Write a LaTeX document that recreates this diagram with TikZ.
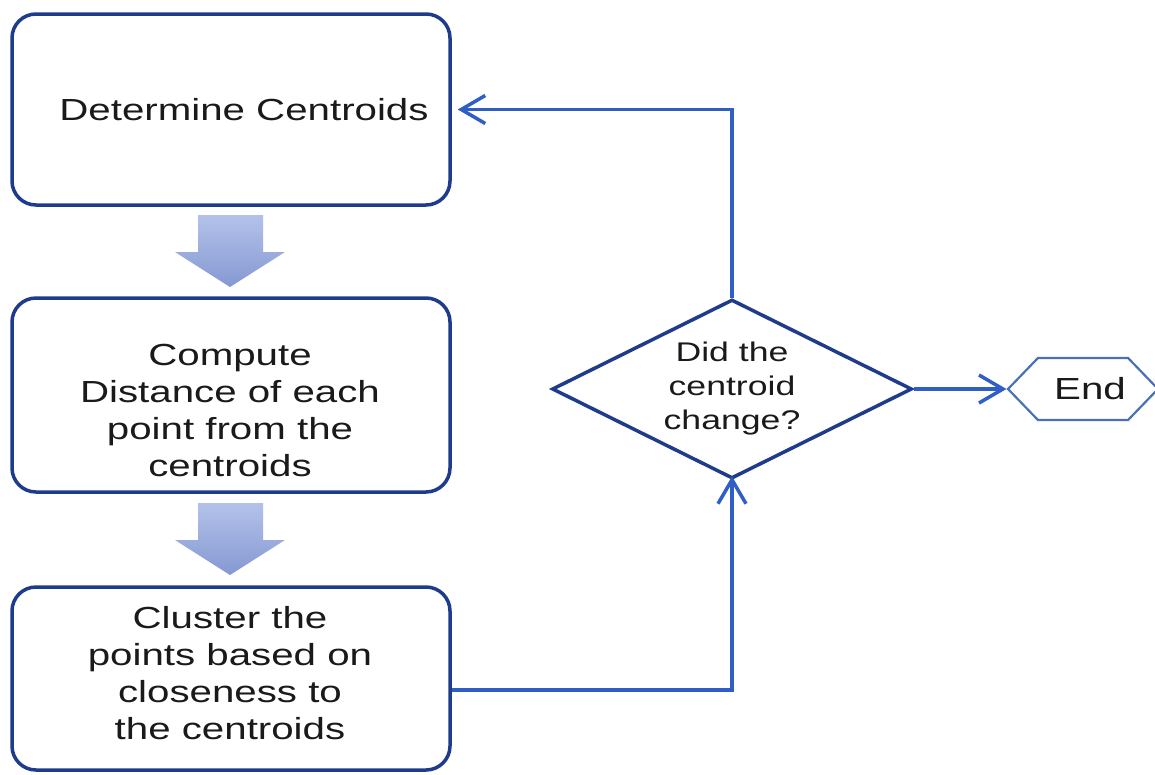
\documentclass[tikz,border=0pt]{standalone}
\usepackage{fontspec}
\setmainfont{Liberation Sans}[FakeStretch=1.32]
\usetikzlibrary{arrows.meta,shapes.geometric,shapes.symbols}
\definecolor{navy}{HTML}{1F3C8C}
\definecolor{linkblue}{HTML}{2F5FC4}
\definecolor{endblue}{HTML}{4A70B8}
\definecolor{txt}{HTML}{1A1A1A}
\definecolor{arrtop}{HTML}{B4C2EA}
\definecolor{arrbot}{HTML}{8598D2}
\tikzset{
  stepbox/.style={draw=navy, line width=3.5pt, rounded corners=24pt, fill=white, inner sep=0pt},
  steptext/.style={text=txt, align=center, font=\fontsize{30.5}{37}\selectfont, inner sep=0pt},
  decision/.style={diamond, aspect=2, draw=navy, line width=3.5pt, inner sep=0pt, text=txt, align=center,
    font=\fontsize{27}{34}\selectfont},
  terminal/.style={signal, signal to=west and east, signal pointer angle=92, draw=endblue,
    line width=2.2pt, inner sep=0pt, text=txt, font=\fontsize{30.5}{37}\selectfont},
  conn/.style={draw=linkblue, line width=3.5pt, -{Straight Barb[length=24pt,width=28pt,line width=3.5pt]}},
  blockarrow/.style={top color=arrtop, bottom color=arrbot, draw=none}
}
\begin{document}
\begin{tikzpicture}[x=1pt,y=-1pt]
\useasboundingbox (0,0) rectangle (1155,774);

% process boxes
\node[stepbox, minimum width=438, minimum height=191] (b1) at (231,109.5) {};
\node[stepbox, minimum width=438, minimum height=194] (b2) at (231,395) {};
\node[stepbox, minimum width=438, minimum height=183] (b3) at (231,678.5) {};

\node[steptext] (t1) at (244,110) {Determine Centroids};
\node[steptext] (t2) at (230,410) {Compute\\Distance of each\\point from the\\centroids};
\node[steptext] (t3) at (230,673) {Cluster the\\points based on\\closeness to\\the centroids};

% block arrows between the boxes
\foreach \dy in {0,288}{
  \path[blockarrow] (198,215+\dy) -- (263,215+\dy) -- (263,252+\dy) -- (285,252+\dy)
    -- (230,287+\dy) -- (175,252+\dy) -- (198,252+\dy) -- cycle;
}

% decision and terminal
\node[decision, minimum width=360, minimum height=179] (dia) at (732,389) {Did the\\centroid\\change?};
\node[terminal, minimum width=150, minimum height=62] (end) at (1083,389) {\hspace*{14pt}End};

% connectors
\draw[conn] (dia.north) |- ([xshift=6pt]b1.east);
\draw[conn] ([yshift=-11.5pt]b3.east) -| ([yshift=4pt]dia.south);
\draw[conn] (dia.east) -- (end.west);
\end{tikzpicture}
\end{document}
